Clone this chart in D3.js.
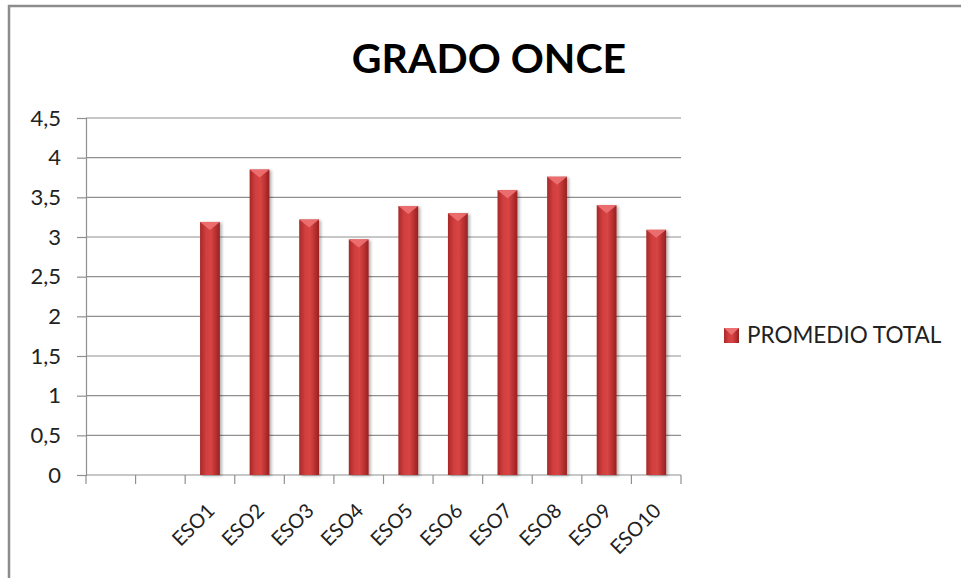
<!DOCTYPE html>
<html><head><meta charset="utf-8">
<script src="https://cdn.jsdelivr.net/npm/d3@7"></script>
<style>body{margin:0;background:#fff}svg{display:block}text{font-family:Lato,"Open Sans",sans-serif}</style>
</head><body>
<svg id="c" width="961" height="578"></svg>
<script>
const categories = ["", " ", "ESO1","ESO2","ESO3","ESO4","ESO5","ESO6","ESO7","ESO8","ESO9","ESO10"];
const values = [null, null, 3.19, 3.85, 3.22, 2.97, 3.39, 3.30, 3.59, 3.76, 3.40, 3.09];
const yTicks = [0,0.5,1,1.5,2,2.5,3,3.5,4,4.5];
const seriesName = "PROMEDIO TOTAL";
const title = "GRADO ONCE";

const svg = d3.select("#c");
const L = 86, R = 681, T = 118, B = 475;
const x = d3.scaleBand().domain(categories).range([L, R]).paddingInner(0.6).paddingOuter(0.3);
const xb = d3.scaleBand().domain(categories).range([L, R]);
const y = d3.scaleLinear().domain([0, 4.5]).range([B, T]);
const fmt = v => String(v).replace(".", ",");

// frame
svg.append("path").attr("d", "M9,578 V6 H961").attr("fill","none").attr("stroke","#8c8c8c").attr("stroke-width",2.5);

const defs = svg.append("defs");
const g = defs.append("linearGradient").attr("id","bar").attr("x1","0").attr("x2","1");
[["0%","#a82828"],["30%","#d13f3f"],["55%","#d84444"],["100%","#9a2020"]].forEach(([o,c])=>g.append("stop").attr("offset",o).attr("stop-color",c));
const f = defs.append("filter").attr("id","sh").attr("x","-30%").attr("y","-10%").attr("width","170%").attr("height","130%");
f.append("feDropShadow").attr("dx",2).attr("dy",1).attr("stdDeviation",1.5).attr("flood-color","#000").attr("flood-opacity",0.3);

// gridlines
svg.append("g").selectAll("line").data(yTicks.slice(1)).join("line")
  .attr("x1", L).attr("x2", R).attr("y1", d=>y(d)).attr("y2", d=>y(d))
  .attr("stroke","#8f8f8f").attr("stroke-width",1.2);

// y axis
const ya = svg.append("g").attr("transform",`translate(${L},0)`)
  .call(d3.axisLeft(y).tickValues(yTicks).tickFormat(fmt).tickSize(9).tickPadding(16));
ya.select(".domain").attr("stroke","#8f8f8f").attr("stroke-width",1.2);
ya.selectAll(".tick line").attr("stroke","#8f8f8f").attr("stroke-width",1.2);
ya.selectAll("text").attr("font-size",22).attr("fill","#222").style("font-family","Lato,sans-serif");

// x axis
const xa = svg.append("g").attr("transform",`translate(0,${B})`);
xa.append("line").attr("x1",L).attr("x2",R).attr("stroke","#8f8f8f").attr("stroke-width",1.2);
const edges = categories.map(c=>xb(c)).concat([R]);
xa.selectAll(".t").data(edges).join("line").attr("x1",d=>d).attr("x2",d=>d).attr("y1",0).attr("y2",9).attr("stroke","#8f8f8f").attr("stroke-width",1.2);
xa.selectAll("text").data(categories.filter(c=>c.trim())).join("text")
  .attr("transform", d=>`translate(${xb(d)+xb.bandwidth()/2+6},${37}) rotate(-45)`)
  .attr("text-anchor","end").attr("font-size",20).attr("fill","#222").text(d=>d);

// bars
const data = categories.map((c,i)=>({c, v: values[i]})).filter(d=>d.v!=null);
const bars = svg.append("g").selectAll("g").data(data).join("g");
bars.append("rect").attr("x", d=>x(d.c)).attr("width", x.bandwidth())
  .attr("y", d=>y(d.v)).attr("height", d=>B - y(d.v)).attr("fill","url(#bar)").attr("filter","url(#sh)");
bars.append("path").attr("d", d=>{const x0=x(d.c), w=x.bandwidth(), t=y(d.v); return `M${x0},${t} H${x0+w} L${x0+w/2},${t+8} Z`;})
  .attr("fill","#ec7070").attr("opacity",0.95);

// title
svg.append("text").attr("x", 489).attr("y", 73).attr("text-anchor","middle").attr("font-size",41).attr("font-weight","bold").attr("fill","#000").text(title);

// legend
const lg = svg.append("g");
lg.append("rect").attr("x",724).attr("y",328).attr("width",15).attr("height",15).attr("fill","url(#bar)");
lg.append("path").attr("d","M724,328 H739 L731.5,335 Z").attr("fill","#ec7070");
lg.append("text").attr("x",747).attr("y",343).attr("font-size",22.5).attr("fill","#222").text(seriesName);
</script>
</body></html>
